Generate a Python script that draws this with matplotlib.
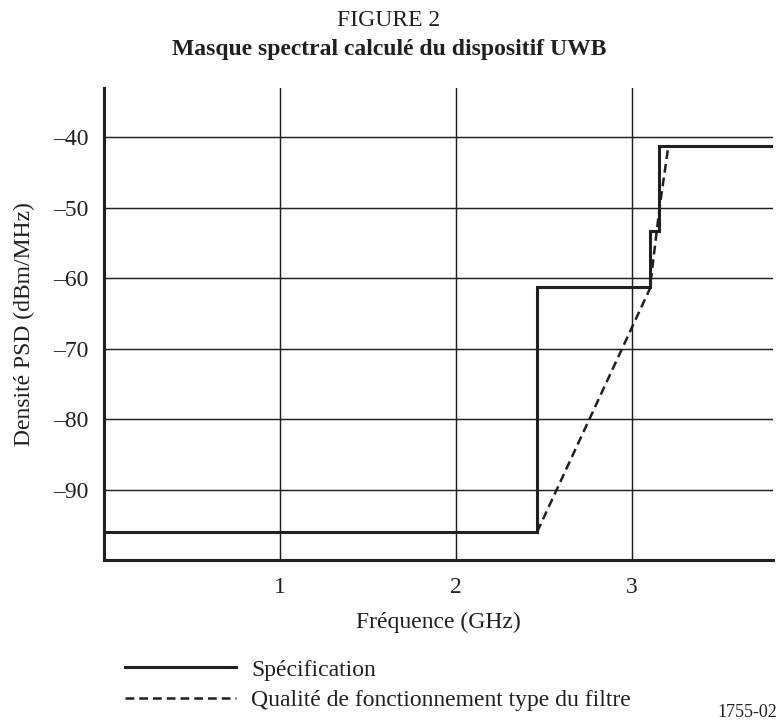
import matplotlib
matplotlib.use('Agg')
import matplotlib.pyplot as plt

plt.rcParams['font.family'] = ['Liberation Serif', 'DejaVu Serif']

# spectral mask (specification), GHz / dBm/MHz
spec_f = [0.0, 2.46, 2.46, 3.10, 3.10, 3.15, 3.15, 3.79]
spec_p = [-96.0, -96.0, -61.3, -61.3, -53.3, -53.3, -41.3, -41.3]

# typical filter performance
filt_f = [2.46, 3.10, 3.155, 3.205]
filt_p = [-96.0, -61.5, -50.0, -41.3]

x_ticks = [1, 2, 3]
y_ticks = [-40, -50, -60, -70, -80, -90]
y_labels = ['–40', '–50', '–60', '–70', '–80', '–90']

ink = '#231f20'
fs = 17

fig = plt.figure(figsize=(7.78, 7.22), dpi=100)
ax = fig.add_axes([0.1337, 0.2244, 0.8600, 0.6537])

ax.set_xlim(0, 3.8)
ax.set_ylim(-100, -33)

for x in x_ticks:
    ax.axvline(x, color=ink, lw=1.05, zorder=1)
for y in y_ticks:
    ax.axhline(y, color=ink, lw=1.05, zorder=1)

ax.plot(spec_f, spec_p, color=ink, lw=2.2, solid_joinstyle='miter',
        label='Spécification', zorder=3)
ax.plot(filt_f, filt_p, color=ink, lw=1.8, linestyle=(0, (3.5, 2.0)),
        label='Qualité de fonctionnement type du filtre', zorder=4)

ax.set_xticks(x_ticks)
ax.set_xticklabels([str(x) for x in x_ticks])
ax.set_yticks(y_ticks)
ax.set_yticklabels(y_labels)
ax.tick_params(axis='both', length=0, labelsize=fs, colors=ink)
ax.tick_params(axis='x', pad=12)
ax.tick_params(axis='y', pad=11)

for s in ['top', 'right']:
    ax.spines[s].set_visible(False)
ax.spines['left'].set_linewidth(2.2)
ax.spines['bottom'].set_linewidth(2.2)
ax.spines['left'].set_color(ink)
ax.spines['bottom'].set_color(ink)

ax.set_xlabel('Fréquence (GHz)', fontsize=fs, color=ink)
ax.xaxis.set_label_coords(0.5, (560 - 622) / 472)
ax.xaxis.label.set_va('center')
ax.set_ylabel('Densité PSD (dBm/MHz)', fontsize=fs, color=ink)
ax.yaxis.set_label_coords((25 - 104.5) / 668, 0.5)
ax.yaxis.label.set_va('center')

fig.text(0.5, 1 - 26 / 722, 'FIGURE 2', ha='center', va='baseline',
         fontsize=fs, color=ink)
fig.text(0.5, 1 - 55 / 722, 'Masque spectral calculé du dispositif UWB',
         ha='center', va='baseline', fontsize=fs, fontweight='bold', color=ink)

fig.legend(loc='upper left', bbox_to_anchor=(125 / 778, 1 - 659 / 722),
           frameon=False, fontsize=fs, handlelength=4.7, handletextpad=0.64,
           labelspacing=0.37, borderpad=0, borderaxespad=0,
           labelcolor=ink)

fig.text(717 / 778, 1 / 722, '1755-02', ha='left', va='bottom',
         fontsize=13, color=ink)

fig.savefig('out.png', dpi=100)
